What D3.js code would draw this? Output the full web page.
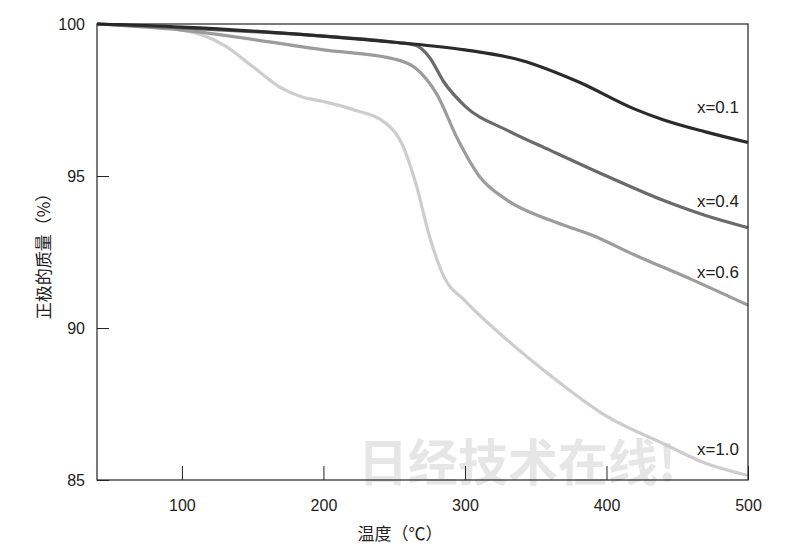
<!DOCTYPE html>
<html><head><meta charset="utf-8">
<script src="https://cdn.jsdelivr.net/npm/d3@7"></script>
<style>body{margin:0;background:#fff}</style>
</head><body>
<svg id="c" width="800" height="560"></svg>
<script>
// temperature (°C) vs remaining mass (%)
var temps_01 = [40, 100, 200, 250, 300, 340, 380, 420, 440, 470, 500]
var mass_01 = [100, 99.9, 99.6, 99.4, 99.15, 98.8, 98.1, 97.2, 96.85, 96.45, 96.1]
var temps_04 = [40, 100, 200, 250, 265, 275, 285, 300, 330, 360, 400, 440, 470, 500]
var mass_04 = [100, 99.87, 99.6, 99.4, 99.3, 98.9, 98.1, 97.3, 96.5, 95.85, 95.0, 94.2, 93.7, 93.3]
var temps_06 = [40, 100, 200, 250, 265, 280, 295, 310, 330, 360, 390, 420, 460, 500]
var mass_06 = [100, 99.8, 99.15, 98.85, 98.55, 97.7, 96.2, 95.0, 94.2, 93.55, 93.05, 92.4, 91.6, 90.75]
var temps_10 = [40, 100, 130, 150, 170, 185, 200, 220, 245, 255, 265, 275, 285, 300, 330, 360, 400, 440, 470, 500]
var mass_10 = [100, 99.8, 99.3, 98.6, 97.9, 97.6, 97.45, 97.2, 96.7, 96.1, 94.8, 93.0, 91.7, 90.9, 89.6, 88.45, 87.1, 86.2, 85.55, 85.15]
var series_names = ['x=0.1', 'x=0.4', 'x=0.6', 'x=1.0']
var x_ticks = [100, 200, 300, 400, 500]
var y_ticks = [85, 90, 95, 100]

var svg = d3.select('#c')
var x = d3.scaleLinear().domain([40, 500]).range([97, 748])
var y = d3.scaleLinear().domain([85, 100]).range([480, 24])
var font = 'Liberation Sans, Arial, sans-serif'

// watermark
svg.append('text').attr('x', 358).attr('y', 481)
	.attr('font-family', 'Noto Sans CJK SC').attr('font-weight', 'bold').attr('font-size', 50)
	.attr('fill', '#e6e6e6').text('日经技术在线!')

var sets = [
	{ t: temps_01, m: mass_01, color: '#2b2b2b', lx: 739, ly: 113 },
	{ t: temps_04, m: mass_04, color: '#6a6a6a', lx: 739, ly: 207 },
	{ t: temps_06, m: mass_06, color: '#9c9c9c', lx: 739, ly: 278 },
	{ t: temps_10, m: mass_10, color: '#cdcdcd', lx: 739, ly: 455 }
]
var line = d3.line().x(function(d){ return x(d[0]) }).y(function(d){ return y(d[1]) }).curve(d3.curveMonotoneX)

sets.slice().reverse().forEach(function(s){
	svg.append('path').datum(d3.zip(s.t, s.m))
		.attr('d', line).attr('fill', 'none')
		.attr('stroke', s.color).attr('stroke-width', 3.2)
})
sets.forEach(function(s, i){
	svg.append('text').attr('x', s.lx).attr('y', s.ly).attr('text-anchor', 'end')
		.attr('font-family', font).attr('font-size', 17).attr('fill', '#222').text(series_names[i])
})

// frame
svg.append('rect').attr('x', 97).attr('y', 24).attr('width', 651).attr('height', 456)
	.attr('fill', 'none').attr('stroke', '#222').attr('stroke-width', 1.2)

var xa = svg.append('g').attr('transform', 'translate(0,480)')
	.call(d3.axisBottom(x).tickValues(x_ticks).tickSizeInner(-14).tickSizeOuter(0).tickPadding(20))
var ya = svg.append('g').attr('transform', 'translate(97,0)')
	.call(d3.axisLeft(y).tickValues(y_ticks).tickSizeInner(-12).tickSizeOuter(0).tickPadding(12))
;[xa, ya].forEach(function(a){
	a.select('.domain').remove()
	a.selectAll('line').attr('stroke', '#222')
	a.selectAll('text').attr('font-family', font).attr('font-size', 16).attr('fill', '#222')
})

svg.append('text').attr('x', 400).attr('y', 540).attr('text-anchor', 'middle')
	.attr('font-family', 'Noto Sans CJK SC').attr('font-size', 17).attr('fill', '#222').text('温度（℃）')
svg.append('text').attr('transform', 'translate(50,252) rotate(-90)').attr('text-anchor', 'middle')
	.attr('font-family', 'Noto Sans CJK SC').attr('font-size', 17).attr('fill', '#222').text('正极的质量（%）')
</script>
</body></html>
